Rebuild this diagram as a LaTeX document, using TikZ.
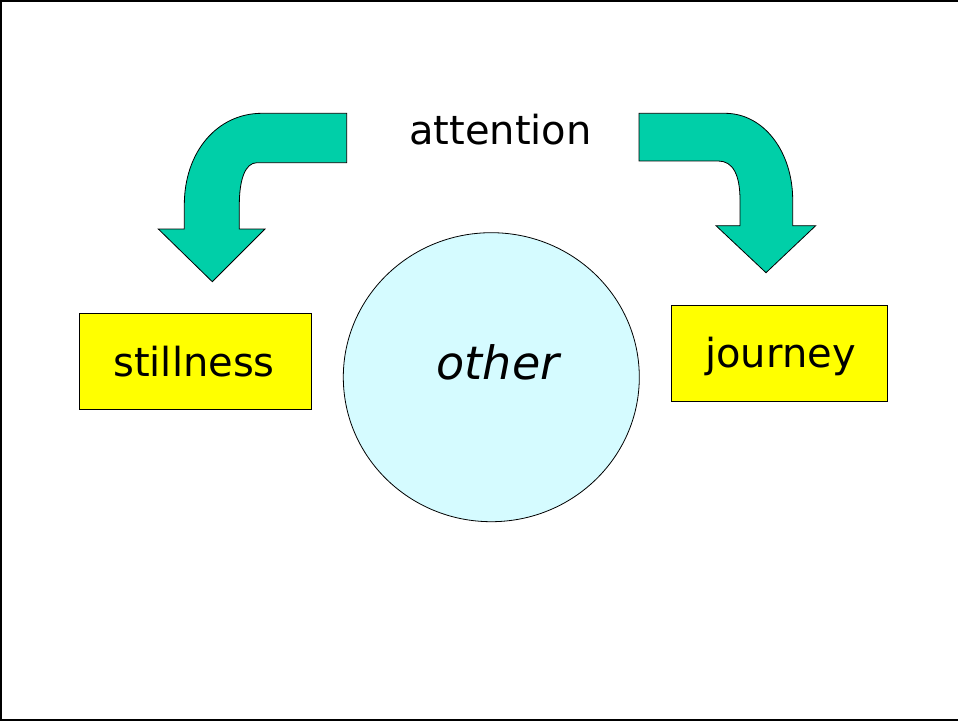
\documentclass[tikz,border=0pt]{standalone}
\usepackage{fontspec}
\setmainfont{DejaVu Sans}
\usetikzlibrary{shapes.geometric}
\definecolor{arrowgreen}{RGB}{0,207,168}
\definecolor{lightcyan}{RGB}{213,251,255}
\definecolor{boxyellow}{RGB}{255,255,0}
\tikzset{
  bend arrow/.style={fill=arrowgreen, draw=black, line width=0.8pt, line join=miter},
  labelbox/.style={draw=black, fill=boxyellow, line width=0.8pt, inner sep=0pt},
  otherball/.style={ellipse, draw=black, fill=lightcyan, line width=0.8pt, inner sep=0pt},
  plaintext/.style={inner sep=0pt, font=\fontsize{40}{46}\selectfont}
}
\begin{document}
\begin{tikzpicture}[x=1pt,y=-1pt]
\useasboundingbox (0,0) rectangle (958,722);
% frame
\draw[line width=1.5pt] (1,1) rectangle (960,720);
% left bent arrow
\draw[bend arrow] (346.7,113.3) -- (262,113.3)
  .. controls (217,113.3) and (184.3,152) .. (184.3,205)
  -- (184.3,229) -- (158.3,229) -- (212.3,281.7) -- (265,229) -- (239.3,229) -- (239.3,205)
  .. controls (239.3,180) and (245,162.7) .. (257,162.7)
  -- (346.7,162.7) -- cycle;
% right bent arrow
\draw[bend arrow] (639,113.3) -- (725,113.3)
  .. controls (764,113.3) and (792.7,152) .. (792.7,200)
  -- (792.7,225.7) -- (815.7,225.7) -- (766,272.7) -- (716,225.7) -- (740,225.7) -- (740,200)
  .. controls (740,175) and (733,161) .. (718.3,161)
  -- (639,161) -- cycle;
% nodes
\node[labelbox, minimum width=232pt, minimum height=96pt] (stillness) at (195,361) {};
\node[labelbox, minimum width=216pt, minimum height=96pt] (journey) at (779,353) {};
\node[otherball, minimum width=296pt, minimum height=289pt] (other) at (491.3,377.2) {};
\node[plaintext] (attention) at (500.5,130) {attention};
\node[plaintext] (stilltext) at (194,362) {stillness};
\node[plaintext] (journeytext) at (780.5,356) {journey};
\node[plaintext, font=\fontsize{46}{52}\selectfont\itshape] (othertext) at (498,362) {other};
\end{tikzpicture}
\end{document}
